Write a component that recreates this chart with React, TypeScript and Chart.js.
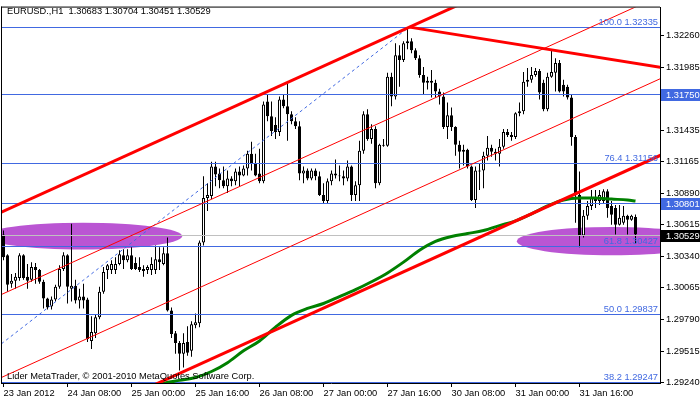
import React, { useEffect, useRef } from 'react';
import { Chart, registerables } from 'chart.js';

Chart.register(...registerables);

// ---------- data ----------
const titleText = 'EURUSD.,H1  1.30683 1.30704 1.30451 1.30529';
const watermarkText = 'Lider MetaTrader, \u00A9 2001-2010 MetaQuotes Software Corp.';

const xTickBars = [0, 16, 32, 48, 64, 80, 96, 112, 128, 144];
const xTickLabels = ['23 Jan 2012', '24 Jan 08:00', '25 Jan 00:00', '25 Jan 16:00', '26 Jan 08:00', '27 Jan 00:00', '27 Jan 16:00', '30 Jan 08:00', '31 Jan 00:00', '31 Jan 16:00'];
const yTickValues = [1.3226, 1.31985, 1.3171, 1.31435, 1.31165, 1.3089, 1.30615, 1.3034, 1.30065, 1.2979, 1.29515, 1.2924];

const opens = [
  1.30529, 1.30349, 1.30100, 1.30126, 1.30152, 1.30349, 1.30161, 1.30135, 1.30246, 1.30221, 1.30118, 1.29972, 1.29903, 1.29963, 1.30075, 1.30229,
  1.30349, 1.30058, 1.30083, 1.29955, 1.29989, 1.29963, 1.29603, 1.29671, 1.29809, 1.30032, 1.30221, 1.30221, 1.30221, 1.30272, 1.30349, 1.30306,
  1.30349, 1.30281, 1.30246, 1.30229, 1.30221, 1.30221, 1.30221, 1.30315, 1.30272, 1.30366, 1.29869, 1.29671, 1.29586, 1.29491, 1.29594, 1.29517,
  1.29740, 1.29757, 1.30461, 1.30847, 1.30864, 1.31121, 1.31061, 1.31001, 1.30950, 1.31018, 1.30993, 1.31079, 1.31044, 1.31104, 1.31233, 1.31147,
  1.31061, 1.30993, 1.31688, 1.31559, 1.31482, 1.31422, 1.31705, 1.31645, 1.31576, 1.31516, 1.31473, 1.31061, 1.31087, 1.31018, 1.31087, 1.31036,
  1.30873, 1.30821, 1.30993, 1.31061, 1.31044, 1.31036, 1.31018, 1.31121, 1.30873, 1.30958, 1.31259, 1.31576, 1.31362, 1.31448, 1.30976, 1.31310,
  1.31302, 1.31902, 1.31731, 1.32091, 1.32048, 1.32194, 1.32211, 1.32134, 1.32065, 1.31919, 1.31851, 1.31868, 1.31851, 1.31774, 1.31731, 1.31465,
  1.31568, 1.31465, 1.31310, 1.31250, 1.31267, 1.31121, 1.30830, 1.31079, 1.31087, 1.31216, 1.31285, 1.31250, 1.31233, 1.31293, 1.31422, 1.31396,
  1.31379, 1.31585, 1.31602, 1.31859, 1.31877, 1.31919, 1.31954, 1.31851, 1.31619, 1.31902, 1.31937, 1.32022, 1.31834, 1.31816, 1.31722, 1.31379,
  1.30873, 1.30521, 1.30692, 1.30778, 1.30821, 1.30821, 1.30821, 1.30907, 1.30778, 1.30761, 1.30615, 1.30632, 1.30692, 1.30658, 1.30683,
];
const highs = [
  1.30564, 1.30358, 1.30186, 1.30195, 1.30366, 1.30358, 1.30272, 1.30289, 1.30281, 1.30229, 1.30135, 1.29980, 1.29989, 1.30092, 1.30263, 1.30375,
  1.30358, 1.30624, 1.30135, 1.30058, 1.30100, 1.29980, 1.29817, 1.29835, 1.30075, 1.30246, 1.30272, 1.30306, 1.30332, 1.30392, 1.30401, 1.30401,
  1.30418, 1.30332, 1.30332, 1.30263, 1.30263, 1.30332, 1.30435, 1.30418, 1.30418, 1.30504, 1.29895, 1.29689, 1.29603, 1.29671, 1.29732, 1.29774,
  1.29843, 1.30478, 1.31036, 1.30976, 1.31164, 1.31164, 1.31104, 1.31121, 1.31087, 1.31036, 1.31104, 1.31121, 1.31130, 1.31259, 1.31336, 1.31233,
  1.31276, 1.31688, 1.31748, 1.31688, 1.31550, 1.31731, 1.31748, 1.31851, 1.31602, 1.31550, 1.31516, 1.31121, 1.31104, 1.31104, 1.31104, 1.31079,
  1.30976, 1.31018, 1.31087, 1.31182, 1.31130, 1.31087, 1.31173, 1.31130, 1.30993, 1.31345, 1.31602, 1.31619, 1.31490, 1.31473, 1.31319, 1.31362,
  1.31937, 1.31937, 1.32194, 1.32177, 1.32211, 1.32335, 1.32237, 1.32151, 1.32091, 1.31988, 1.31902, 1.31962, 1.31877, 1.31799, 1.31765, 1.31679,
  1.31636, 1.31473, 1.31345, 1.31310, 1.31276, 1.31130, 1.31121, 1.31147, 1.31250, 1.31387, 1.31310, 1.31276, 1.31362, 1.31448, 1.31448, 1.31422,
  1.31593, 1.31679, 1.31945, 1.31979, 1.31988, 1.31979, 1.31971, 1.31877, 1.31937, 1.32134, 1.32065, 1.32048, 1.31877, 1.31834, 1.31748, 1.31396,
  1.31079, 1.30744, 1.30821, 1.30916, 1.30916, 1.30916, 1.30924, 1.30924, 1.30821, 1.30787, 1.30787, 1.30778, 1.30701, 1.30701, 1.30704,
];
const lows = [
  1.30306, 1.30032, 1.30066, 1.30058, 1.30126, 1.30135, 1.30058, 1.30118, 1.30100, 1.30100, 1.29886, 1.29877, 1.29877, 1.29946, 1.30058, 1.30212,
  1.29929, 1.29946, 1.29929, 1.29886, 1.29886, 1.29594, 1.29534, 1.29629, 1.29792, 1.30015, 1.30143, 1.30186, 1.30186, 1.30263, 1.30229, 1.30289,
  1.30221, 1.30221, 1.30203, 1.30161, 1.30186, 1.30178, 1.30186, 1.30221, 1.30263, 1.29860, 1.29629, 1.29491, 1.29345, 1.29371, 1.29474, 1.29466,
  1.29714, 1.29723, 1.30435, 1.30735, 1.30838, 1.30950, 1.30933, 1.30933, 1.30890, 1.30950, 1.30958, 1.30950, 1.31036, 1.31044, 1.31087, 1.31036,
  1.30976, 1.30976, 1.31516, 1.31387, 1.31362, 1.31387, 1.31628, 1.31345, 1.31490, 1.31448, 1.31001, 1.30976, 1.31001, 1.31001, 1.31001, 1.30864,
  1.30804, 1.30804, 1.30958, 1.31018, 1.30993, 1.30958, 1.30993, 1.30821, 1.30821, 1.30821, 1.31233, 1.31345, 1.31319, 1.30933, 1.30958, 1.31293,
  1.31293, 1.31645, 1.31705, 1.31816, 1.32031, 1.32143, 1.32108, 1.32048, 1.31894, 1.31748, 1.31791, 1.31722, 1.31722, 1.31662, 1.31448, 1.31362,
  1.31430, 1.31216, 1.31104, 1.31130, 1.31104, 1.30821, 1.30761, 1.30916, 1.30933, 1.31173, 1.31207, 1.31173, 1.31121, 1.31276, 1.31379, 1.31345,
  1.31362, 1.31559, 1.31576, 1.31816, 1.31851, 1.31902, 1.31705, 1.31602, 1.31602, 1.31894, 1.31774, 1.31765, 1.31731, 1.31705, 1.31302, 1.30632,
  1.30418, 1.30504, 1.30658, 1.30744, 1.30761, 1.30787, 1.30804, 1.30675, 1.30615, 1.30529, 1.30607, 1.30615, 1.30529, 1.30649, 1.30451,
];
const closes = [
  1.30332, 1.30092, 1.30126, 1.30161, 1.30349, 1.30152, 1.30126, 1.30246, 1.30221, 1.30118, 1.29972, 1.29895, 1.29963, 1.30075, 1.30229, 1.30349,
  1.30075, 1.30083, 1.29955, 1.29989, 1.29955, 1.29620, 1.29680, 1.29809, 1.30032, 1.30203, 1.30263, 1.30272, 1.30272, 1.30358, 1.30306, 1.30349,
  1.30229, 1.30229, 1.30221, 1.30212, 1.30246, 1.30272, 1.30315, 1.30289, 1.30366, 1.29869, 1.29663, 1.29586, 1.29491, 1.29586, 1.29500, 1.29749,
  1.29766, 1.30461, 1.30847, 1.30873, 1.31121, 1.31053, 1.31001, 1.30950, 1.31018, 1.30993, 1.31079, 1.31044, 1.31104, 1.31233, 1.31147, 1.31044,
  1.30993, 1.31662, 1.31559, 1.31430, 1.31422, 1.31705, 1.31645, 1.31576, 1.31516, 1.31473, 1.31061, 1.31087, 1.31018, 1.31087, 1.31036, 1.30873,
  1.30821, 1.30993, 1.31061, 1.31044, 1.31036, 1.31018, 1.31121, 1.30873, 1.30958, 1.31259, 1.31576, 1.31362, 1.31448, 1.30976, 1.31310, 1.31302,
  1.31902, 1.31731, 1.32091, 1.32048, 1.32194, 1.32211, 1.32134, 1.32065, 1.31919, 1.31851, 1.31868, 1.31851, 1.31774, 1.31731, 1.31465, 1.31568,
  1.31465, 1.31310, 1.31250, 1.31267, 1.31121, 1.30830, 1.31087, 1.31087, 1.31216, 1.31285, 1.31250, 1.31233, 1.31293, 1.31422, 1.31396, 1.31379,
  1.31585, 1.31602, 1.31859, 1.31877, 1.31919, 1.31954, 1.31765, 1.31619, 1.31902, 1.31945, 1.32022, 1.31774, 1.31774, 1.31722, 1.31379, 1.30873,
  1.30521, 1.30692, 1.30778, 1.30847, 1.30838, 1.30873, 1.30907, 1.30761, 1.30701, 1.30615, 1.30675, 1.30692, 1.30658, 1.30692, 1.30529,
];

// moving average (green) read at sample bars
const maBars = [38, 40, 44, 48, 52, 56, 60, 64, 68, 72, 76, 80, 84, 88, 92, 96, 100, 104, 108, 112, 116, 120, 124, 128, 132, 136, 140, 144, 148, 152, 156, 158];
const maValues = [1.29205, 1.29234, 1.29260, 1.29285, 1.29337, 1.29414, 1.29517, 1.29603, 1.29723, 1.29826, 1.29886, 1.29929, 1.29989, 1.30049, 1.30118, 1.30195, 1.30289, 1.30392, 1.30469, 1.30512, 1.30538, 1.30564, 1.30607, 1.30649, 1.30710, 1.30778, 1.30830, 1.30847, 1.30847, 1.30838, 1.30830, 1.30821];

// channel lines (two anchor bars each)
const channelBars = [-1, 170];
const channelUpper = [1.307165, 1.334166];
const channelThin1 = [1.299998, 1.326999];
const channelThin2 = [1.292774, 1.319775];
const channelLower = [1.286099, 1.313100];

const resistanceBars = [101.5, 170];
const resistancePrices = [1.32335, 1.31952];

const fibDiagBars = [-83.45, 101.4];
const fibDiagPrices = [1.27335, 1.32335];

const fibLevels = [100.0, 76.4, 61.8, 50.0, 38.2];
const fibPrices = [1.32335, 1.31156, 1.30427, 1.29837, 1.29247];

const levelLines = [1.3175, 1.30801];
const bidPrice = 1.30529;

const axisBoxValues = [1.3175, 1.30801, 1.30529];
const axisBoxColors = ['#4169E1', '#4169E1', '#000000'];

const ellipseCentreBars = [19.9, 152.1];
const ellipseCentrePrices = [1.30515, 1.30472];
const ellipseHalfBars = [24.75, 23.75];
const ellipseHalfPrices = [0.00116, 0.00124];

// ---------- styles ----------
const FONT = '"Liberation Sans", Arial, sans-serif';
const FONT_SIZE = 9.3;
const BLUE = '#4169E1';
const RED = '#FF0000';
const GREEN = '#008000';
const PURPLE = '#BA55D3';
const X_MIN = -0.375;
const X_MAX = 164.125;
const Y_MIN = 1.29237;
const Y_MAX = 1.32505;

const seg = (xs: number[], ys: number[]) => xs.map((x, i) => ({ x, y: ys[i] }));

export default function App() {
  const ref = useRef<HTMLCanvasElement>(null);

  useEffect(() => {
    const canvas = ref.current!;
    const idx = opens.map((_, i) => i);
    const wickData = idx.map((i) => ({ x: i, y: [lows[i], highs[i]] }));
    const bodyData = idx.map((i) => ({ x: i, y: [opens[i], closes[i]] }));
    const bodyColors = idx.map((i) => (closes[i] >= opens[i] ? '#ffffff' : '#000000'));

    const overlay = {
      id: 'mtOverlay',
      beforeDatasetsDraw(chart: any) {
        const { ctx, chartArea: a, scales } = chart;
        const x = scales.x, y = scales.y;
        ctx.save();
        ctx.beginPath();
        ctx.rect(a.left, a.top, a.right - a.left, a.bottom - a.top);
        ctx.clip();
        ctx.fillStyle = PURPLE;
        ellipseCentreBars.forEach((b, i) => {
          const cx = x.getPixelForValue(b);
          const cy = y.getPixelForValue(ellipseCentrePrices[i]);
          const rx = Math.abs(x.getPixelForValue(b + ellipseHalfBars[i]) - cx);
          const ry = Math.abs(y.getPixelForValue(ellipseCentrePrices[i] + ellipseHalfPrices[i]) - cy);
          ctx.beginPath();
          ctx.ellipse(cx, cy, rx, ry, 0, 0, Math.PI * 2);
          ctx.fill();
        });
        ctx.restore();
      },
      afterDatasetDraw(chart: any, args: any) {
        if (args.index !== 1) return;
        const { ctx, chartArea: a, scales } = chart;
        const y = scales.y;
        ctx.save();
        const row = (v: number) => Math.round(y.getPixelForValue(v));
        ctx.fillStyle = '#C0C0C0';
        ctx.fillRect(a.left, row(bidPrice), a.right - a.left, 1);
        ctx.fillStyle = BLUE;
        [...fibPrices, ...levelLines].forEach((v) => {
          ctx.fillRect(a.left, row(v), a.right - a.left, 1);
        });
        ctx.restore();
      },
      afterDraw(chart: any) {
        const { ctx, chartArea: a, scales } = chart;
        const y = scales.y;
        const row = (v: number) => Math.round(y.getPixelForValue(v));
        ctx.save();
        ctx.font = `${FONT_SIZE}px ${FONT}`;
        // fib labels
        ctx.fillStyle = BLUE;
        ctx.textAlign = 'right';
        ctx.textBaseline = 'alphabetic';
        fibLevels.forEach((lv, i) => {
          ctx.fillText(`${lv.toFixed(1)} ${fibPrices[i].toFixed(5)}`, a.right - 2, row(fibPrices[i]) - 2);
        });
        // axis price boxes
        ctx.textAlign = 'left';
        ctx.textBaseline = 'middle';
        axisBoxValues.forEach((v, i) => {
          const r = row(v);
          ctx.fillStyle = axisBoxColors[i];
          ctx.fillRect(a.right + 1, r - 5, chart.width - a.right - 1, 12);
          ctx.fillStyle = '#ffffff';
          ctx.fillText(v.toFixed(5), a.right + 6, r + 1);
        });
        // frame (left and top)
        ctx.fillStyle = '#000000';
        ctx.fillRect(a.left - 1, a.top - 1, 1, a.bottom - a.top + 2);
        ctx.fillRect(a.left - 1, a.top - 1, a.right - a.left + 1, 1);
        // title and watermark
        ctx.fillStyle = '#000000';
        ctx.textAlign = 'left';
        ctx.textBaseline = 'middle';
        ctx.fillText(titleText, 7, 11.5);
        ctx.fillText(watermarkText, 7, 376.5);
        ctx.restore();
      },
    };

    const lineDs = (data: any[], color: string, width: number, order: number, extra: any = {}) => ({
      type: 'line' as const,
      data,
      borderColor: color,
      borderWidth: width,
      pointRadius: 0,
      fill: false,
      tension: 0,
      order,
      ...extra,
    });

    const chart = new Chart(canvas, {
      type: 'bar',
      data: {
        datasets: [
          {
            type: 'bar',
            data: wickData as any,
            backgroundColor: '#000000',
            borderWidth: 0,
            grouped: false,
            barThickness: 1,
            maxBarThickness: 1,
            inflateAmount: 0,
            order: 20,
          } as any,
          {
            type: 'bar',
            data: bodyData as any,
            backgroundColor: bodyColors,
            borderColor: '#000000',
            borderWidth: 1,
            borderSkipped: false,
            grouped: false,
            barThickness: 3,
            maxBarThickness: 3,
            inflateAmount: 0,
            order: 19,
          } as any,
          lineDs(seg(maBars, maValues), GREEN, 3, 8, { cubicInterpolationMode: 'monotone' }),
          lineDs(seg(fibDiagBars, fibDiagPrices), BLUE, 1, 6, { borderDash: [3, 3] }),
          lineDs(seg(channelBars, channelThin1), RED, 1, 5),
          lineDs(seg(channelBars, channelThin2), RED, 1, 5),
          lineDs(seg(channelBars, channelUpper), RED, 3, 4),
          lineDs(seg(channelBars, channelLower), RED, 3, 4),
          lineDs(seg(resistanceBars, resistancePrices), RED, 3, 3),
        ] as any,
      },
      options: {
        animation: false,
        responsive: false,
        maintainAspectRatio: false,
        devicePixelRatio: 1,
        events: [],
        layout: { padding: { left: 2, top: 2, right: 0, bottom: 0 } },
        plugins: {
          legend: { display: false },
          tooltip: { enabled: false },
          title: { display: false },
        },
        scales: {
          x: {
            type: 'linear',
            position: 'bottom',
            min: X_MIN,
            max: X_MAX,
            offset: false,
            afterBuildTicks: (s: any) => {
              s.ticks = xTickBars.map((v) => ({ value: v }));
            },
            afterFit: (s: any) => {
              s.height = 19;
            },
            grid: { display: true, offset: false, drawOnChartArea: false, drawTicks: true, tickLength: 4, color: '#000000', tickColor: '#000000', lineWidth: 1 },
            border: { display: true, color: '#000000', width: 1 },
            ticks: {
              autoSkip: false,
              maxRotation: 0,
              minRotation: 0,
              align: 'start',
              padding: 1,
              color: '#000000',
              font: { family: FONT, size: FONT_SIZE },
              callback: (v: any) => {
                const k = xTickBars.indexOf(Number(v));
                return k >= 0 ? xTickLabels[k] : '';
              },
            },
          },
          y: {
            type: 'linear',
            position: 'right',
            min: Y_MIN,
            max: Y_MAX,
            afterBuildTicks: (s: any) => {
              s.ticks = yTickValues.map((v) => ({ value: v }));
            },
            afterFit: (s: any) => {
              s.width = 40;
            },
            grid: { display: true, drawOnChartArea: false, drawTicks: true, tickLength: 4, color: '#000000', tickColor: '#000000', lineWidth: 1 },
            border: { display: true, color: '#000000', width: 1 },
            ticks: {
              autoSkip: false,
              padding: 2,
              color: '#000000',
              font: { family: FONT, size: FONT_SIZE },
              callback: (v: any) => Number(v).toFixed(5),
            },
          },
        },
      } as any,
      plugins: [overlay],
    });

    return () => chart.destroy();
  }, []);

  return (
    <div style={{ position: 'fixed', left: 0, top: 0, width: 700, height: 402, background: '#ffffff' }}>
      <canvas ref={ref} width={700} height={402} style={{ display: 'block', width: 700, height: 402 }} />
    </div>
  );
}
